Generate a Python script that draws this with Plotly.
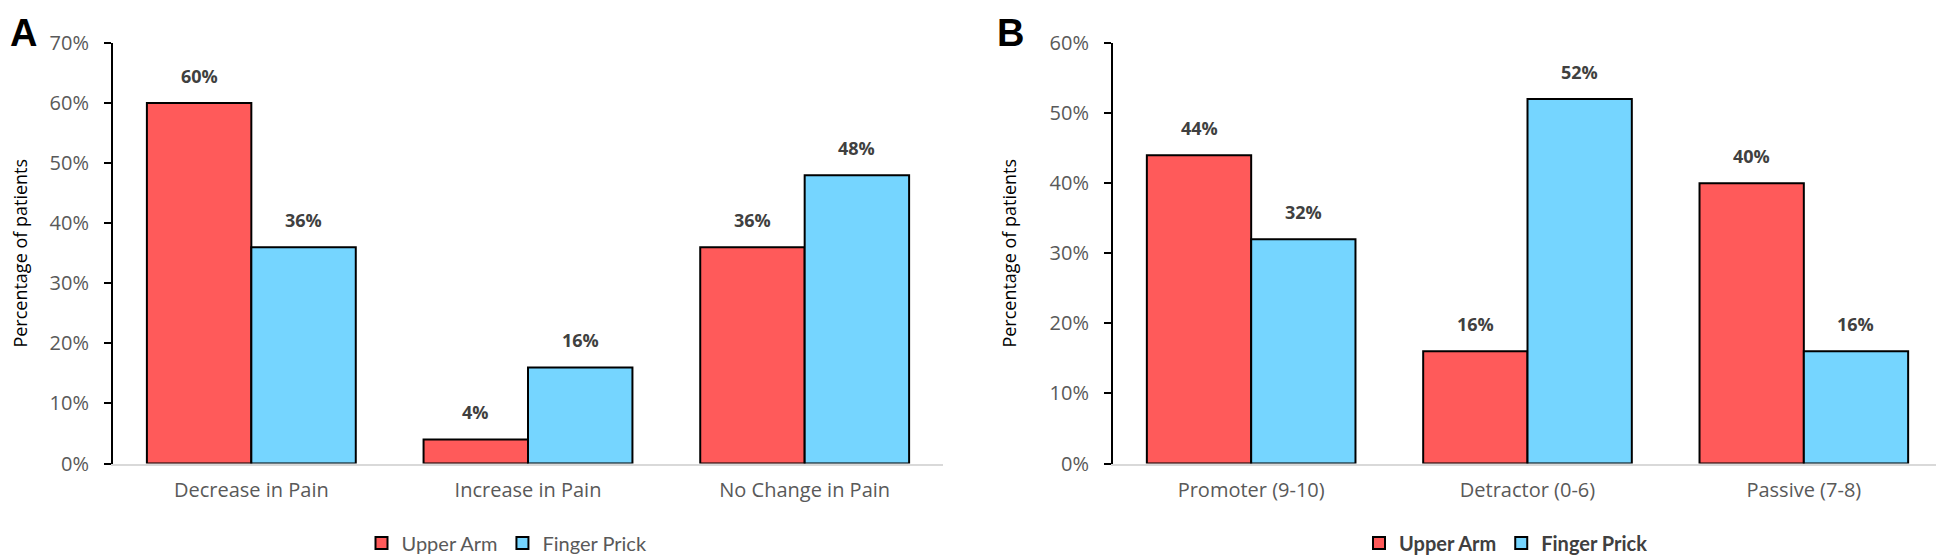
import plotly.graph_objects as go

# Panel A data
cats_a = ["Decrease in Pain", "Increase in Pain", "No Change in Pain"]
upper_a = [60, 4, 36]
finger_a = [36, 16, 48]

# Panel B data
cats_b = ["Promoter (9-10)", "Detractor (0-6)", "Passive (7-8)"]
upper_b = [44, 16, 40]
finger_b = [32, 52, 16]

series_names = ["Upper Arm", "Finger Prick"]
RED = "#FF5A5A"
BLUE = "#75D5FF"

# page body has an 8px margin, so figure is offset by 8px
OFF = 8
W, H = 1936, 552
A_x0, A_x1 = 113, 943
B_x0, B_x1 = 1113, 1942
Y_top, Y_bot = 43, 463.5

def fx(px):
    return (px - OFF) / W

def fy(py):
    return 1 - (py - OFF) / H

fig = go.Figure()

def add_panel(cats, up, fi, xa, ya, legend):
    for name, vals, col in [(series_names[0], up, RED), (series_names[1], fi, BLUE)]:
        fig.add_trace(go.Bar(
            x=cats, y=vals, name=name, xaxis=xa, yaxis=ya, legend=legend,
            marker=dict(color=col, line=dict(color="black", width=2)),
            hoverinfo="x+y+name",
        ))

add_panel(cats_a, upper_a, finger_a, "x", "y", "legend")
add_panel(cats_b, upper_b, finger_b, "x2", "y2", "legend2")

# data labels
def add_labels(cats, up, fi, xref, yref, panel_w):
    cat_w = panel_w / 3
    bar_w = cat_w * (1 - 0.245) / 2
    for vals, sgn in [(up, -1), (fi, 1)]:
        for c, v in zip(cats, vals):
            fig.add_annotation(
                x=c, y=v, xref=xref, yref=yref, text=f"<b>{v}%</b>",
                showarrow=False, yanchor="bottom", xanchor="center",
                xshift=sgn * bar_w / 2, yshift=13,
                font=dict(family="Open Sans", size=18, color="#404040"),
            )

add_labels(cats_a, upper_a, finger_a, "x", "y", A_x1 - A_x0)
add_labels(cats_b, upper_b, finger_b, "x2", "y2", B_x1 - B_x0)

ydom = [fy(Y_bot), fy(Y_top)]
tickfont = dict(family="Open Sans", size=20, color="#595959")
titlefont = dict(family="Open Sans", size=18, color="#000000")

yaxis_common = dict(
    showgrid=False, zeroline=False, showline=True, linecolor="black", linewidth=2,
    ticks="outside", ticklen=7, tickwidth=2, tickcolor="black",
    ticksuffix="%", tickfont=tickfont, ticklabelstandoff=11,
    domain=ydom, automargin=False,
)
xaxis_common = dict(
    showgrid=False, zeroline=False, showline=True, linecolor="#D9D9D9", linewidth=2,
    ticks="", tickfont=tickfont, ticklabelstandoff=7, automargin=False,
)

fig.update_layout(
    width=W, height=H,
    margin=dict(l=0, r=0, t=0, b=0, autoexpand=False),
    paper_bgcolor="white", plot_bgcolor="white",
    barmode="group", bargap=0.245, bargroupgap=0,
    xaxis=dict(**xaxis_common, domain=[fx(A_x0), fx(A_x1)], anchor="y"),
    yaxis=dict(**yaxis_common, range=[0, 70], dtick=10, anchor="x",
               title=dict(text="Percentage of patients", font=titlefont, standoff=28)),
    xaxis2=dict(**xaxis_common, domain=[fx(B_x0), fx(B_x1)], anchor="y2"),
    yaxis2=dict(**yaxis_common, range=[0, 60], dtick=10, anchor="x2",
                title=dict(text="Percentage of patients", font=titlefont, standoff=28)),
    legend=dict(orientation="h", x=fx(507), xanchor="center", y=fy(543), yanchor="middle",
                font=dict(family="Lato", size=20, color="#595959"),
                itemclick=False, traceorder="normal"),
    legend2=dict(orientation="h", x=fx(1506), xanchor="center", y=fy(543), yanchor="middle",
                 font=dict(family="Lato", size=20, color="#404040", weight="bold"),
                 itemclick=False, traceorder="normal"),
    showlegend=True,
)

fig.add_annotation(text="<b>A</b>", x=fx(23), y=1, xref="paper", yref="paper",
                   showarrow=False, xanchor="center", yanchor="top", yshift=-2,
                   font=dict(family="Liberation Sans", size=38, color="black"))
fig.add_annotation(text="<b>B</b>", x=fx(1010), y=1, xref="paper", yref="paper",
                   showarrow=False, xanchor="center", yanchor="top", yshift=-2,
                   font=dict(family="Liberation Sans", size=38, color="black"))

fig.write_html("out.html")
